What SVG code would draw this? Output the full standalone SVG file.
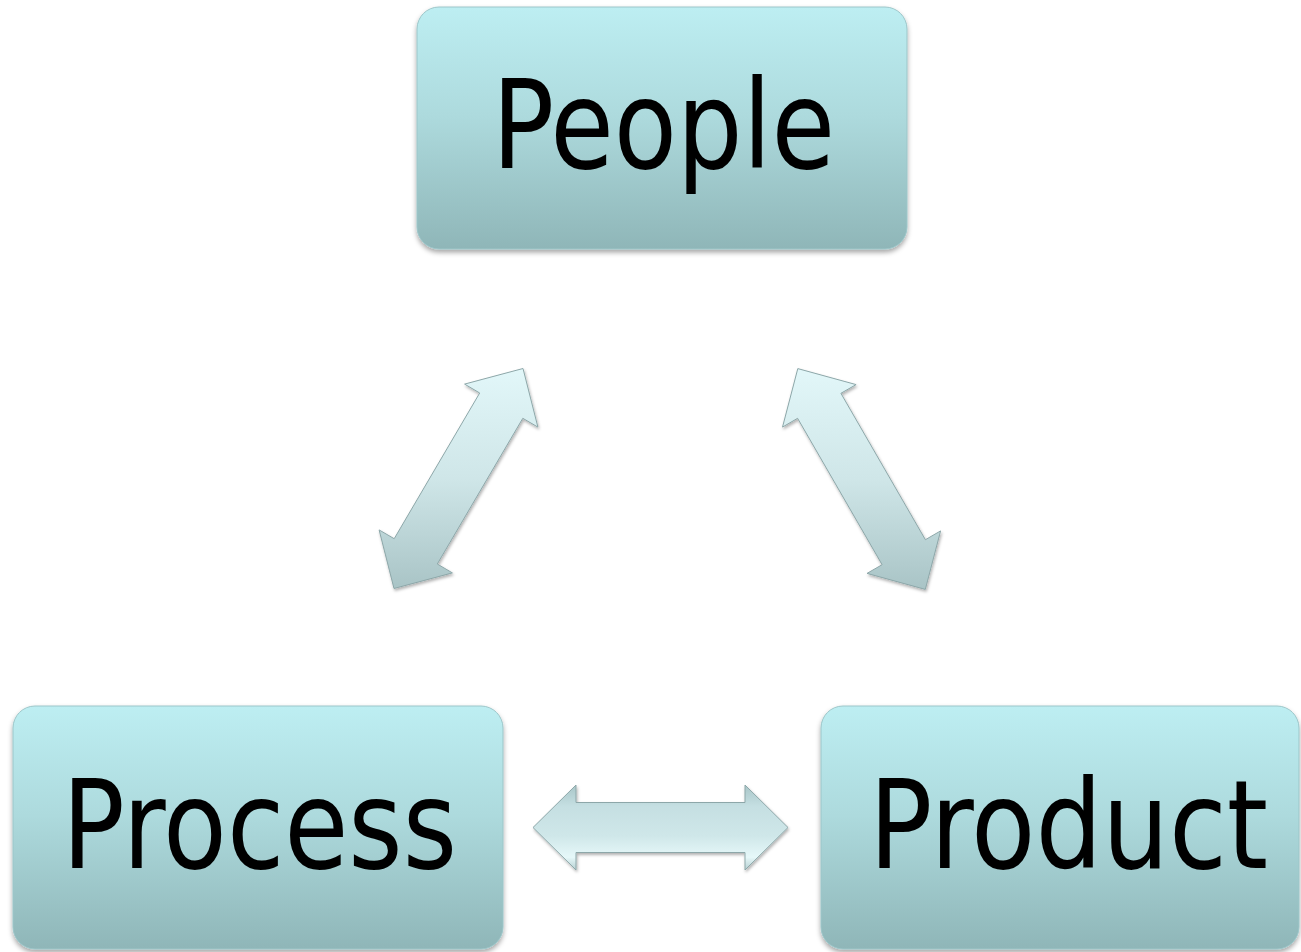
<svg xmlns="http://www.w3.org/2000/svg" width="1301" height="952" viewBox="0 0 1301 952">
<defs>
<linearGradient id="boxFill" x1="0" y1="0" x2="0" y2="1">
<stop offset="0" stop-color="#bdeef2"/>
<stop offset="0.45" stop-color="#addadd"/>
<stop offset="1" stop-color="#8fb6b8"/>
</linearGradient>
<linearGradient id="diagFill" x1="0" y1="0" x2="0" y2="1">
<stop offset="0" stop-color="#e2f7f9"/>
<stop offset="0.5" stop-color="#cfe6e8"/>
<stop offset="1" stop-color="#a9c4c6"/>
</linearGradient>
<linearGradient id="horizFill" x1="0" y1="0" x2="0" y2="1">
<stop offset="0" stop-color="#a9c6c8"/>
<stop offset="0.25" stop-color="#c5dfe2"/>
<stop offset="0.6" stop-color="#cfe7e9"/>
<stop offset="0.85" stop-color="#e6f8f9"/>
<stop offset="1" stop-color="#b5cfd1"/>
</linearGradient>
<filter id="shadow" x="-10%" y="-10%" width="120%" height="130%">
<feDropShadow dx="0" dy="3" stdDeviation="2.5" flood-color="#000" flood-opacity="0.35"/>
</filter>
<filter id="ashadow" x="-20%" y="-20%" width="140%" height="140%">
<feDropShadow dx="1" dy="2" stdDeviation="1.5" flood-color="#000" flood-opacity="0.3"/>
</filter>
</defs>
<style>
.box { fill: url(#boxFill); stroke: #9cc6c9; stroke-width: 1; filter: url(#shadow); }
.lbl { font-family: "DejaVu Sans Condensed", "DejaVu Sans", Verdana, sans-serif; font-stretch: condensed; font-size: 123px; fill: #000; }
.arrow { stroke: #8da7a9; stroke-width: 1; stroke-linejoin: miter; filter: url(#ashadow); }
</style>
<rect width="1301" height="952" fill="#ffffff"/>
<g id="connectors">
<polygon id="arrow-process-people" class="arrow" fill="url(#diagFill)" points="394.0,588.5 379.1,529.9 394.2,538.7 479.7,393.0 464.6,384.1 523.0,368.5 537.9,427.1 522.8,418.3 437.3,564.0 452.4,572.9"/>
<polygon id="arrow-people-product" class="arrow" fill="url(#diagFill)" points="797.8,368.6 856.1,384.6 840.9,393.3 925.4,539.7 940.6,530.9 925.3,589.4 867.0,573.4 882.1,564.7 797.6,418.3 782.5,427.1"/>
<polygon id="arrow-process-product" class="arrow" fill="url(#horizFill)" points="533,827.5 576,785 576,802.5 745,802.5 745,785 788,827.5 745,870 745,852.5 576,852.5 576,870"/>
</g>
<g id="node-people">
<rect class="box" x="417" y="7" width="490" height="242" rx="22" ry="22"/>
<text class="lbl" x="492" y="168" textLength="343" lengthAdjust="spacingAndGlyphs">People</text>
</g>
<g id="node-process">
<rect class="box" x="13" y="706" width="490" height="243" rx="22" ry="22"/>
<text class="lbl" x="62" y="868" textLength="395" lengthAdjust="spacingAndGlyphs">Process</text>
</g>
<g id="node-product">
<rect class="box" x="821" y="706" width="478" height="243" rx="22" ry="22"/>
<text class="lbl" x="869" y="868" textLength="399" lengthAdjust="spacingAndGlyphs">Product</text>
</g>
</svg>
